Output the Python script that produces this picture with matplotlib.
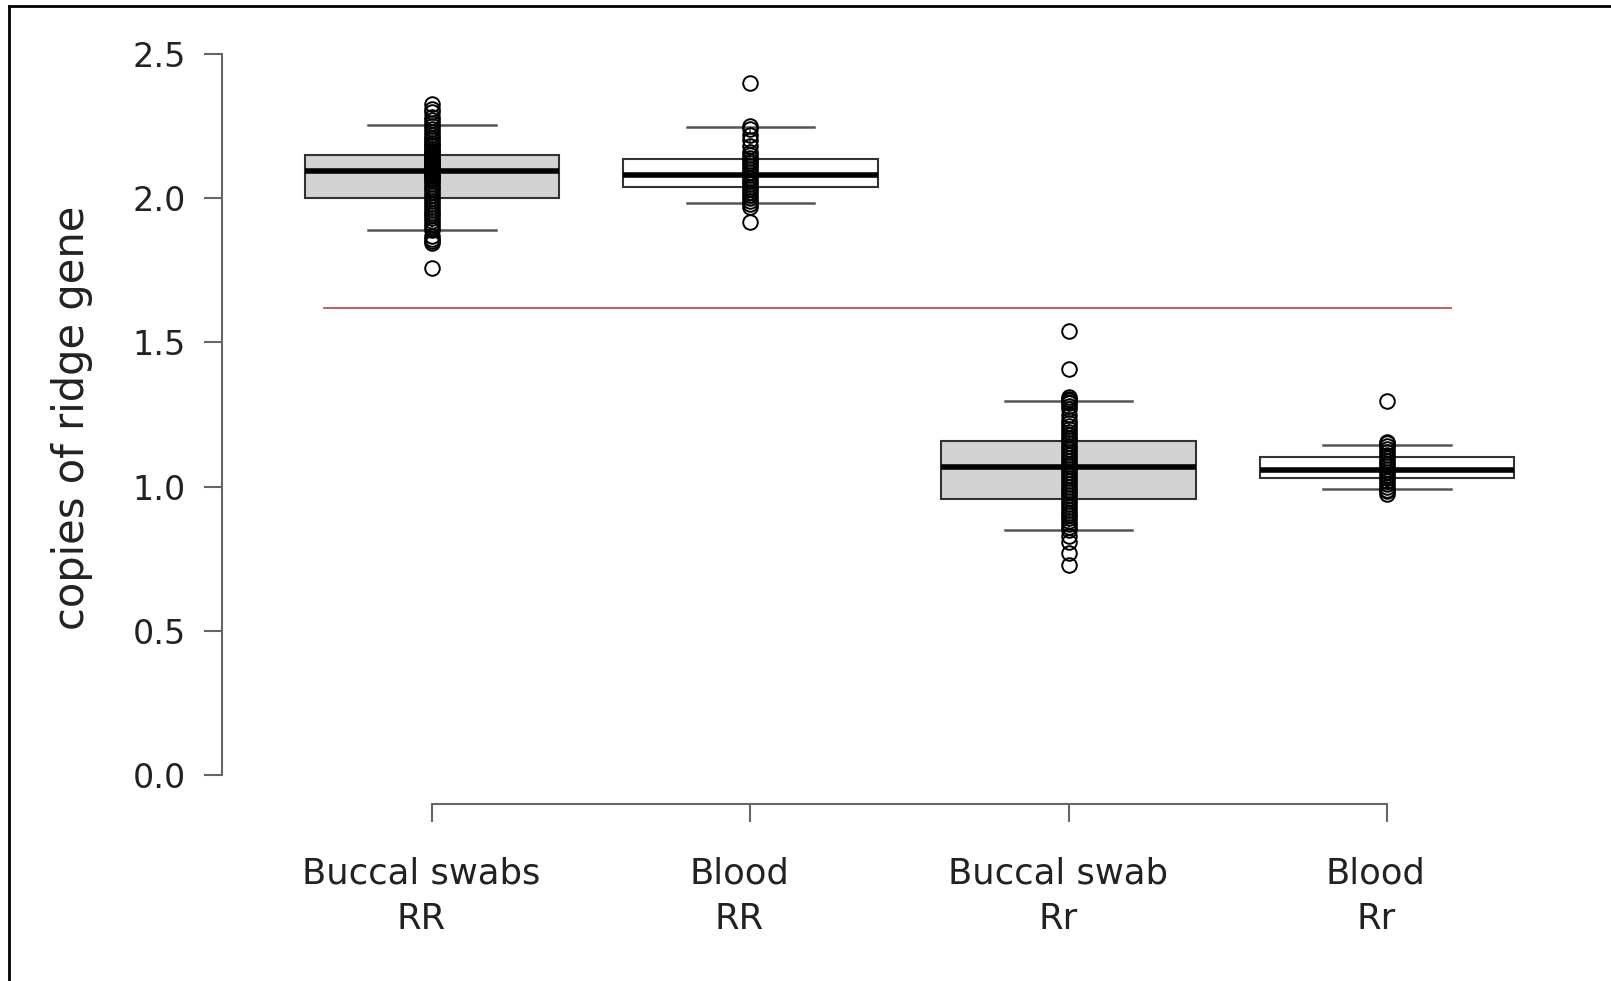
import matplotlib
matplotlib.use("Agg")
import matplotlib.pyplot as plt
from matplotlib.lines import Line2D
from matplotlib.transforms import ScaledTranslation

# ---- data ----
categories = ["Buccal swabs\nRR", "Blood\nRR", "Buccal swab\nRr", "Blood\nRr"]
box_fill = ["#d3d3d3", "white", "#d3d3d3", "white"]
q1 = [2.000, 2.039, 0.957, 1.029]
median = [2.093, 2.079, 1.068, 1.057]
q3 = [2.150, 2.136, 1.157, 1.104]
whisker_low = [1.889, 1.982, 0.850, 0.993]
whisker_high = [2.254, 2.246, 1.296, 1.146]

points_buccal_RR = [2.325, 2.31, 2.30, 2.28, 2.27, 2.26, 2.25, 2.24, 2.23, 2.22,
                    2.21, 2.20, 2.19, 2.185, 2.18, 2.17, 2.165, 2.16, 2.155, 2.15,
                    2.145, 2.14, 2.135, 2.13, 2.125, 2.12, 2.115, 2.11, 2.105, 2.10,
                    2.095, 2.09, 2.085, 2.08, 2.075, 2.07, 2.065, 2.06, 2.05, 2.04,
                    2.03, 2.02, 2.01, 2.00, 1.99, 1.98, 1.97, 1.96, 1.95, 1.94,
                    1.93, 1.92, 1.91, 1.90, 1.89, 1.87, 1.86, 1.85, 1.845, 1.757]
points_blood_RR = [2.40, 2.25, 2.24, 2.22, 2.20, 2.18, 2.16, 2.15, 2.14, 2.13,
                   2.12, 2.11, 2.10, 2.09, 2.08, 2.07, 2.06, 2.05, 2.04, 2.03,
                   2.02, 2.01, 2.00, 1.99, 1.98, 1.97, 1.918]
points_buccal_Rr = [1.539, 1.407, 1.31, 1.305, 1.30, 1.295, 1.29, 1.28, 1.27, 1.25,
                    1.23, 1.22, 1.21, 1.20, 1.19, 1.18, 1.17, 1.16, 1.15, 1.14,
                    1.13, 1.12, 1.11, 1.10, 1.09, 1.08, 1.07, 1.06, 1.05, 1.04,
                    1.03, 1.02, 1.01, 1.00, 0.99, 0.98, 0.97, 0.96, 0.95, 0.94,
                    0.93, 0.92, 0.91, 0.90, 0.89, 0.88, 0.87, 0.86, 0.85, 0.83,
                    0.807, 0.771, 0.729]
points_blood_Rr = [1.296, 1.155, 1.15, 1.14, 1.13, 1.12, 1.11, 1.10, 1.09, 1.08,
                   1.07, 1.06, 1.05, 1.04, 1.03, 1.02, 1.01, 1.00, 0.99, 0.985,
                   0.975]
all_points = [points_buccal_RR, points_blood_RR, points_buccal_Rr, points_blood_Rr]

threshold = 1.62
threshold_x = [0.66, 4.2]
yticks = [0.0, 0.5, 1.0, 1.5, 2.0, 2.5]
ylabel = "copies of ridge gene"

# ---- figure ----
fig = plt.figure(figsize=(16.11, 9.81), dpi=100)
ax = fig.add_axes([222 / 1611, 1 - 804 / 981, (1597 - 222) / 1611, (804 - 25) / 981])
ax.set_xlim(0.34, 4.66)
ax.set_ylim(-0.1, 2.6)

positions = list(range(1, len(categories) + 1))
stats = []
for i in range(len(categories)):
    stats.append(dict(q1=q1[i], med=median[i], q3=q3[i],
                      whislo=whisker_low[i], whishi=whisker_high[i], fliers=[]))

bp = ax.bxp(stats, positions=positions, widths=0.8, showfliers=False,
            patch_artist=True,
            boxprops=dict(edgecolor="#333333", linewidth=1.5),
            medianprops=dict(color="black", linewidth=4, solid_capstyle="butt"),
            whiskerprops=dict(color="#555555", linewidth=1.3, linestyle=(0, (4, 3))),
            capprops=dict(color="#555555", linewidth=1.8),
            capwidths=0.4)
for patch, fc in zip(bp["boxes"], box_fill):
    patch.set_facecolor(fc)

for pos, pts in zip(positions, all_points):
    ax.plot([pos] * len(pts), pts, linestyle="none", marker="o",
            markersize=10.5, markerfacecolor="none", markeredgecolor="black",
            markeredgewidth=1.4, zorder=4)

ax.plot(threshold_x, [threshold, threshold], color="#c0504d", linewidth=1.3, zorder=3)

# axes styling (R-like)
for s in ["top", "right"]:
    ax.spines[s].set_visible(False)
ax.spines["left"].set_bounds(0, 2.5)
ax.spines["bottom"].set_bounds(1, 4)
for s in ["left", "bottom"]:
    ax.spines[s].set_color("#666666")
    ax.spines[s].set_linewidth(1.5)

ax.set_yticks(yticks)
ax.set_yticklabels([f"{v:.1f}" for v in yticks])
ax.set_xticks(positions)
ax.set_xticklabels(categories, linespacing=1.43)
ax.tick_params(axis="both", direction="out", length=13, width=1.5,
               color="#666666", labelcolor="#222222")
ax.tick_params(axis="y", labelsize=24, pad=13)
ax.tick_params(axis="x", labelsize=25.5, pad=25)
offset = ScaledTranslation(-11 / 100, 0, fig.dpi_scale_trans)
for lab in ax.get_xticklabels():
    lab.set_transform(lab.get_transform() + offset)

fig.text(72 / 1611, 1 - 418 / 981, ylabel, rotation=90, ha="center", va="center",
         fontsize=30, color="#222222")

# partial frame (top and left edges)
fig.add_artist(Line2D([9 / 1611, 9 / 1611], [0, 1 - 6 / 981], transform=fig.transFigure,
                      color="black", linewidth=2))
fig.add_artist(Line2D([9 / 1611, 1], [1 - 6 / 981, 1 - 6 / 981], transform=fig.transFigure,
                      color="black", linewidth=2))

fig.savefig("out.png", dpi=100)
